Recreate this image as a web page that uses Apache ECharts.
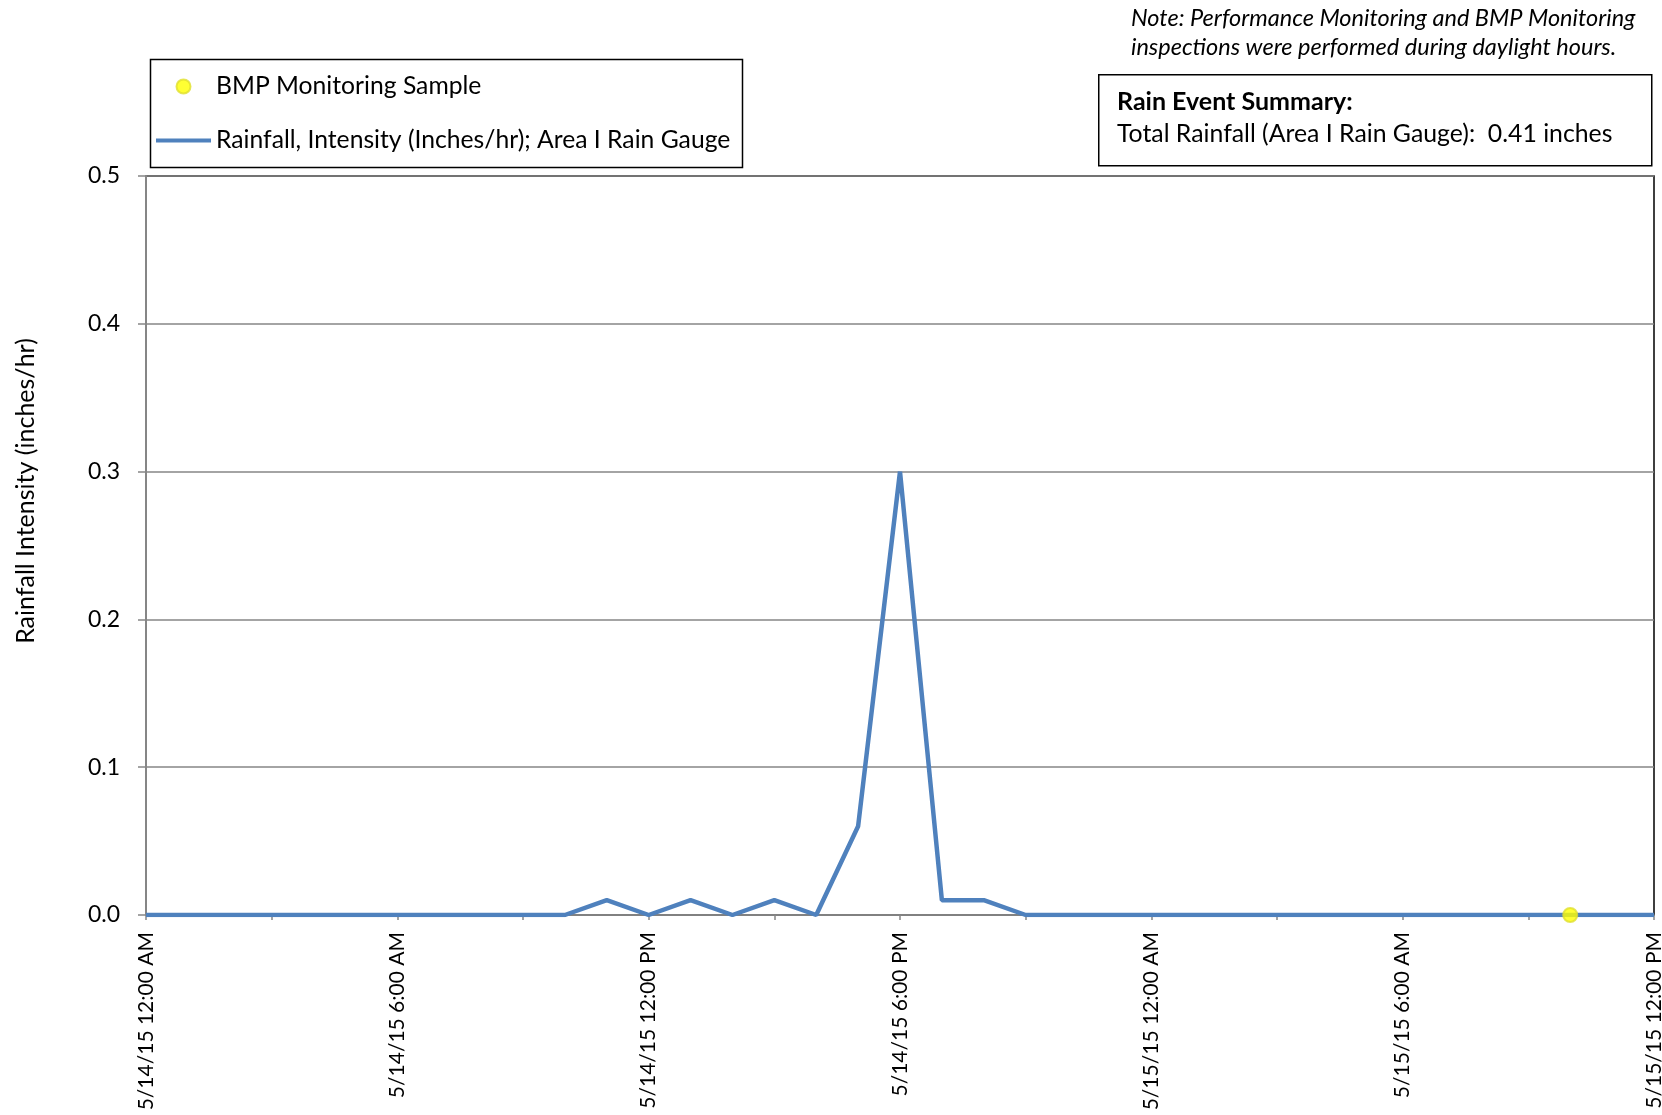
<!DOCTYPE html>
<html>
<head>
<meta charset="utf-8">
<title>Rainfall Intensity</title>
<style>
  html, body { margin: 0; padding: 0; background: #fff; }
  #chart { width: 1662px; height: 1115px; }
</style>
</head>
<body>
<div id="chart"></div>
<script src="https://cdn.jsdelivr.net/npm/echarts@6/dist/echarts.min.js"></script>
<script>
// hourly timestamps (category axis)
var hours = [
  '5/14/15 12:00 AM', '5/14/15 1:00 AM', '5/14/15 2:00 AM', '5/14/15 3:00 AM',
  '5/14/15 4:00 AM', '5/14/15 5:00 AM', '5/14/15 6:00 AM', '5/14/15 7:00 AM',
  '5/14/15 8:00 AM', '5/14/15 9:00 AM', '5/14/15 10:00 AM', '5/14/15 11:00 AM',
  '5/14/15 12:00 PM', '5/14/15 1:00 PM', '5/14/15 2:00 PM', '5/14/15 3:00 PM',
  '5/14/15 4:00 PM', '5/14/15 5:00 PM', '5/14/15 6:00 PM', '5/14/15 7:00 PM',
  '5/14/15 8:00 PM', '5/14/15 9:00 PM', '5/14/15 10:00 PM', '5/14/15 11:00 PM',
  '5/15/15 12:00 AM', '5/15/15 1:00 AM', '5/15/15 2:00 AM', '5/15/15 3:00 AM',
  '5/15/15 4:00 AM', '5/15/15 5:00 AM', '5/15/15 6:00 AM', '5/15/15 7:00 AM',
  '5/15/15 8:00 AM', '5/15/15 9:00 AM', '5/15/15 10:00 AM', '5/15/15 11:00 AM',
  '5/15/15 12:00 PM'
];

// rainfall intensity, inches/hr
var rainfall = [
  0, 0, 0, 0, 0, 0, 0, 0, 0, 0, 0,
  0.01, 0, 0.01, 0, 0.01, 0, 0.06, 0.30, 0.01, 0.01, 0,
  0, 0, 0, 0, 0, 0, 0, 0, 0, 0, 0, 0, 0, 0, 0
];

// BMP monitoring sample times
var bmpSamples = [['5/15/15 10:00 AM', 0]];

var FONT = 'Lato';
var chart = echarts.init(document.getElementById('chart'));

var option = {
  animation: false,
  backgroundColor: '#fff',
  textStyle: { fontFamily: FONT, color: '#000' },
  grid: {
    left: 146, right: 8, top: 176, bottom: 200,
    outerBoundsMode: 'none',
    containLabel: false,
    show: true,
    borderColor: '#000',
    borderWidth: 1.5
  },
  legend: {
    orient: 'vertical',
    left: 156, top: 74,
    padding: 0,
    itemWidth: 55, itemHeight: 14, itemGap: 29,
    textStyle: { fontFamily: FONT, fontSize: 24.7, lineHeight: 25, color: '#000' },
    data: [
      { name: 'BMP Monitoring Sample', icon: 'circle' },
      { name: 'Rainfall, Intensity (Inches/hr); Area I Rain Gauge', icon: 'path://M0,0H55V4H0Z' }
    ]
  },
  xAxis: {
    type: 'category',
    data: hours,
    boundaryGap: false,
    axisLine: { lineStyle: { color: '#868686', width: 1.5 } },
    axisTick: { show: true, interval: 2, length: 5, lineStyle: { color: '#868686', width: 1.5 } },
    axisLabel: {
      interval: 5, rotate: 90, margin: 17,
      fontFamily: FONT, fontSize: 21, color: '#000'
    },
    splitLine: { show: false }
  },
  yAxis: {
    type: 'value',
    min: 0, max: 0.5, interval: 0.1,
    axisLine: { show: true, lineStyle: { color: '#868686', width: 2 } },
    axisTick: { show: true, length: 8, lineStyle: { color: '#868686', width: 1.5 } },
    axisLabel: {
      margin: 26, fontFamily: FONT, fontSize: 23, color: '#000',
      formatter: function (v) { return v.toFixed(1); }
    },
    splitLine: { show: true, lineStyle: { color: '#868686', width: 1.5 } }
  },
  series: [
    {
      name: 'Rainfall, Intensity (Inches/hr); Area I Rain Gauge',
      type: 'line',
      data: rainfall,
      showSymbol: false,
      symbol: 'none',
      itemStyle: { color: '#4F81BD' },
      lineStyle: { color: '#4F81BD', width: 4.5 },
      z: 3
    },
    {
      name: 'BMP Monitoring Sample',
      type: 'scatter',
      data: bmpSamples,
      symbolSize: 14,
      itemStyle: { color: '#FFFF00', borderColor: '#E0E030', borderWidth: 2 },
      z: 4
    }
  ],
  graphic: [
    // legend frame
    { type: 'rect', left: 148, top: 57, shape: { width: 592, height: 108 },
      style: { fill: 'none', stroke: '#000', lineWidth: 1.5 }, silent: true },
    // summary box
    { type: 'rect', left: 1098, top: 74, shape: { width: 553, height: 91 },
      style: { fill: '#fff', stroke: '#000', lineWidth: 1.5 }, silent: true },
    { type: 'text', x: 1117, y: 102,
      style: { text: 'Rain Event Summary:', font: 'bold 25px ' + FONT, fill: '#000', verticalAlign: 'middle' } },
    { type: 'text', x: 1117, y: 134,
      style: { text: 'Total Rainfall (Area I Rain Gauge):  0.41 inches', font: '24.8px ' + FONT, fill: '#000', verticalAlign: 'middle' } },
    // note
    { type: 'text', x: 1131, y: 18,
      style: { text: 'Note: Performance Monitoring and BMP Monitoring', font: 'italic 23.5px ' + FONT, fill: '#000', verticalAlign: 'middle' } },
    { type: 'text', x: 1131, y: 47,
      style: { text: 'inspections were performed during daylight hours.', font: 'italic 23.5px ' + FONT, fill: '#000', verticalAlign: 'middle' } },
    // y axis title
    { type: 'text', x: 26, y: 491, rotation: Math.PI / 2,
      style: { text: 'Rainfall Intensity (inches/hr)', font: '25px ' + FONT, fill: '#000',
        align: 'center', verticalAlign: 'middle' } }
  ]
};

chart.setOption(option);
</script>
</body>
</html>
